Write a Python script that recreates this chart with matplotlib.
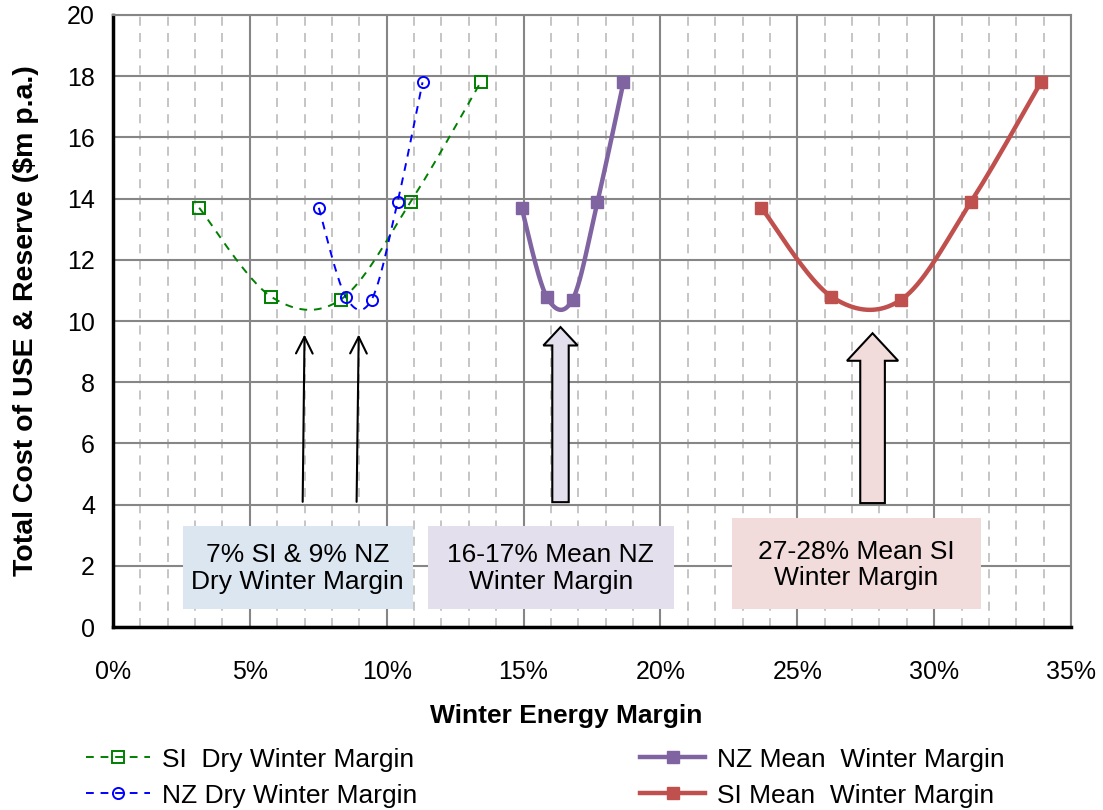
import matplotlib
matplotlib.use("Agg")
import matplotlib.pyplot as plt
import numpy as np
from matplotlib.patches import Rectangle, Polygon
from matplotlib.ticker import FuncFormatter, MultipleLocator

plt.rcParams['font.family'] = ['Liberation Sans', 'DejaVu Sans']

# winter energy margin (%) for each scenario, same five cost levels
cost = [13.7, 10.8, 10.7, 13.9, 17.8]
si_dry = [3.15, 5.77, 8.32, 10.88, 13.43]
nz_dry = [7.52, 8.50, 9.45, 10.40, 11.31]
nz_mean = [14.93, 15.84, 16.79, 17.70, 18.65]
si_mean = [23.69, 26.24, 28.80, 31.35, 33.90]

labels = ["SI  Dry Winter Margin", "NZ Dry Winter Margin",
          "NZ Mean  Winter Margin", "SI Mean  Winter Margin"]
box_text = ["7% SI & 9% NZ\nDry Winter Margin",
            "16-17% Mean NZ\nWinter Margin",
            "27-28% Mean SI\nWinter Margin"]


def smooth(xs, ys, n=40):
    # excel style smoothed line: cubic bezier through each pair of points
    p = np.column_stack([xs, ys]).astype(float)
    ext = np.vstack([p[0], p, p[-1]])
    out = []
    t = np.linspace(0, 1, n)[:, None]
    for i in range(len(p) - 1):
        p0, p1 = p[i], p[i + 1]
        c1 = p0 + (ext[i + 2] - ext[i]) / 6
        c2 = p1 - (ext[i + 3] - ext[i + 1]) / 6
        seg = ((1 - t) ** 3) * p0 + 3 * ((1 - t) ** 2) * t * c1 + 3 * (1 - t) * t ** 2 * c2 + t ** 3 * p1
        out.append(seg if i == 0 else seg[1:])
    out = np.vstack(out)
    return out[:, 0], out[:, 1]


fig = plt.figure(figsize=(11.03, 8.10), dpi=100)
ax = fig.add_axes([0.1024, 0.2259, 0.8686, 0.7556])

ax.set_xlim(0, 35)
ax.set_ylim(0, 20)
ax.xaxis.set_major_locator(MultipleLocator(5))
ax.xaxis.set_minor_locator(MultipleLocator(1))
ax.yaxis.set_major_locator(MultipleLocator(2))
ax.xaxis.set_major_formatter(FuncFormatter(lambda v, p: f"{v:.0f}%"))

ax.grid(which='minor', axis='x', color='#c0c0c0', lw=1.3, linestyle=(0, (5, 4)), zorder=0)
ax.grid(which='major', color='#868686', lw=1.5, zorder=0)
ax.set_axisbelow(True)
ax.tick_params(which='both', length=0)
ax.tick_params(axis='y', pad=13, labelsize=18)
ax.tick_params(axis='x', pad=24, labelsize=18)

for s in ['top', 'right']:
    ax.spines[s].set_color('#868686')
    ax.spines[s].set_linewidth(1.5)
for s in ['left', 'bottom']:
    ax.spines[s].set_color('black')
    ax.spines[s].set_linewidth(2.5)

ax.set_xlabel("Winter Energy Margin", fontsize=19, fontweight='bold')
ax.xaxis.set_label_coords(0.473, -0.125)
ax.set_ylabel("Total Cost of USE & Reserve ($m p.a.)", fontsize=20.5, fontweight='bold')
ax.yaxis.set_label_coords(-0.077, 0.5)

series = [
    (si_dry, dict(color='#008000', lw=1.4, ls=(0, (4, 3.5))), dict(marker='s', ms=8, mfc='none', mec='#008000', mew=1.4)),
    (nz_dry, dict(color='#0000ff', lw=1.4, ls=(0, (4, 3.5))), dict(marker='o', ms=8, mfc='none', mec='#0000ff', mew=1.4)),
    (nz_mean, dict(color='#8064a2', lw=3.2, ls='-'), dict(marker='s', ms=8.5, mfc='#8064a2', mec='#8064a2')),
    (si_mean, dict(color='#c0504d', lw=3.2, ls='-'), dict(marker='s', ms=8.5, mfc='#c0504d', mec='#c0504d')),
]
handles = []
for (xs, line_kw, mark_kw), lab in zip(series, labels):
    sx, sy = smooth(xs, cost)
    ax.plot(sx, sy, zorder=3, **line_kw)
    ax.plot(xs, cost, ls='none', zorder=4, **mark_kw)
    h, = ax.plot([], [], label=lab, **line_kw, **mark_kw)
    handles.append(h)

# thin arrows for the dry margins
ax.annotate('', xy=(7.0, 9.65), xytext=(6.93, 4.0),
            arrowprops=dict(arrowstyle='->', lw=1.5, color='black', mutation_scale=30))
ax.annotate('', xy=(8.98, 9.65), xytext=(8.9, 4.0),
            arrowprops=dict(arrowstyle='->', lw=1.5, color='black', mutation_scale=30))


def block_arrow(xc, y0, tip, head_y, shaft_w, head_w, fc):
    pts = [(xc - shaft_w / 2, y0), (xc + shaft_w / 2, y0), (xc + shaft_w / 2, head_y),
           (xc + head_w / 2, head_y), (xc, tip), (xc - head_w / 2, head_y),
           (xc - shaft_w / 2, head_y)]
    ax.add_patch(Polygon(pts, closed=True, fc=fc, ec='black', lw=1.5, zorder=5))


block_arrow(16.35, 4.08, 9.8, 9.2, 0.6, 1.25, '#e4dfec')
block_arrow(27.75, 4.05, 9.6, 8.7, 0.9, 1.87, '#f2dcdb')

# note boxes under the curves
boxes = [(2.55, 0.59, 8.4, 2.72, '#dce6f1'),
         (11.5, 0.59, 9.0, 2.72, '#e4dfec'),
         (22.6, 0.59, 9.1, 2.97, '#f2dcdb')]
for (bx, by, bw, bh, fc), txt in zip(boxes, box_text):
    ax.add_patch(Rectangle((bx, by), bw, bh, fc=fc, ec='none', zorder=2))
    ax.text(bx + bw / 2, by + bh / 2 - 0.05, txt, ha='center', va='center',
            fontsize=19, linespacing=1.15, zorder=6)

fig.legend(handles=handles, loc='upper left', bbox_to_anchor=(0.068, 0.09),
           ncol=2, frameon=False, fontsize=19, handlelength=2.45,
           handletextpad=0.45, columnspacing=8.45, labelspacing=0.45,
           borderaxespad=0)

fig.savefig('out.png', dpi=100)
